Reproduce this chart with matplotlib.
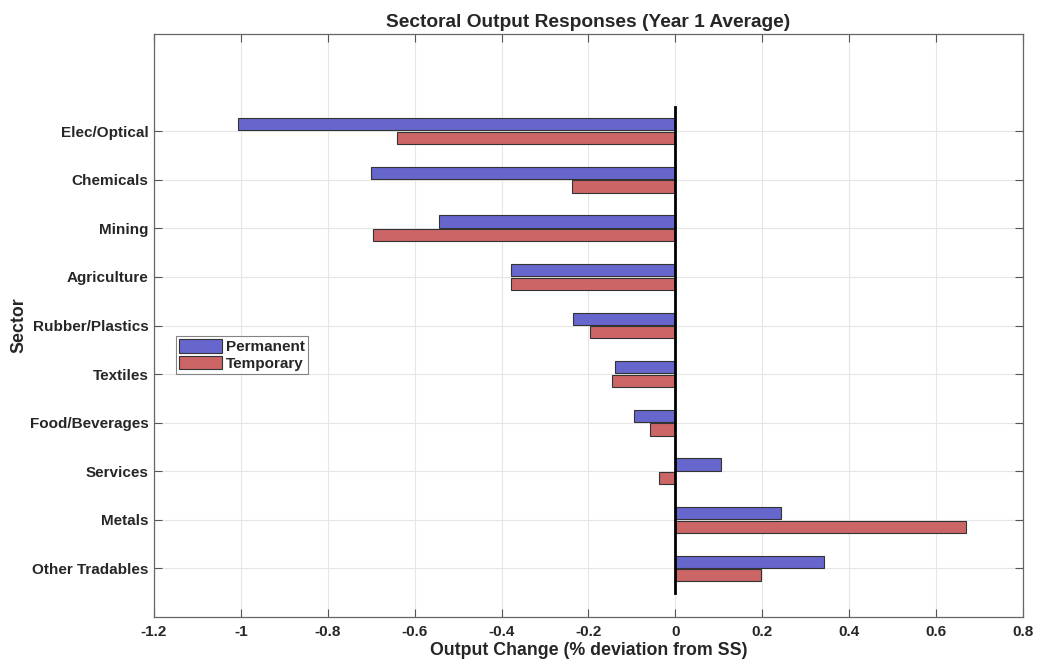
import matplotlib.pyplot as plt
import numpy as np

plt.rcParams['font.family'] = ['Liberation Sans', 'DejaVu Sans']
plt.rcParams['text.color'] = '#262626'
plt.rcParams['axes.labelcolor'] = '#262626'
plt.rcParams['xtick.labelcolor'] = '#262626'
plt.rcParams['ytick.labelcolor'] = '#262626'

# sectors listed bottom-to-top
SECTORS = ['Other Tradables', 'Metals', 'Services', 'Food/Beverages', 'Textiles',
           'Rubber/Plastics', 'Agriculture', 'Mining', 'Chemicals', 'Elec/Optical']
PERMANENT = [0.343, 0.243, 0.105, -0.096, -0.139, -0.236, -0.379, -0.544, -0.701, -1.007]
TEMPORARY = [0.196, 0.668, -0.038, -0.059, -0.146, -0.197, -0.379, -0.696, -0.238, -0.641]
XTICKS = [-1.2, -1, -0.8, -0.6, -0.4, -0.2, 0, 0.2, 0.4, 0.6, 0.8]
XTICKLABELS = ['-1.2', '-1', '-0.8', '-0.6', '-0.4', '-0.2', '0', '0.2', '0.4', '0.6', '0.8']

fig = plt.figure(figsize=(10.38, 6.62), dpi=100)
ax = fig.add_axes([0.1484, 0.068, 0.8371, 0.8806])

y = np.arange(1, len(SECTORS) + 1)
h = 0.25
off = 0.14
ax.barh(y + off, PERMANENT, height=h, color='#6666cc', edgecolor='#333333',
        linewidth=0.8, label='Permanent', zorder=3)
ax.barh(y - off, TEMPORARY, height=h, color='#cc6666', edgecolor='#333333',
        linewidth=0.8, label='Temporary', zorder=3)
ax.plot([0, 0], [0.5, len(SECTORS) + 0.5], color='black', linewidth=2, zorder=4)

ax.set_xlim(-1.2, 0.8)
ax.set_ylim(0, 12)
ax.set_xticks(XTICKS)
ax.set_xticklabels(XTICKLABELS, fontweight='bold', fontsize=11)
ax.set_yticks(y)
ax.set_yticklabels(SECTORS, fontweight='bold', fontsize=11)
ax.tick_params(direction='in', length=6, width=0.8, color='#555555',
               top=True, right=True)
ax.tick_params(axis='y', pad=4)
ax.tick_params(axis='x', pad=6)
ax.grid(True, color='#e6e6e6', linewidth=0.8, zorder=0)
ax.set_axisbelow(True)
for s in ax.spines.values():
    s.set_color('#666666')
    s.set_linewidth(0.9)

ax.set_xlabel('Output Change (% deviation from SS)', fontweight='bold', fontsize=12.8, labelpad=2)
ax.set_ylabel('Sector', fontweight='bold', fontsize=12.8, labelpad=2)
ax.set_title('Sectoral Output Responses (Year 1 Average)', fontweight='bold', fontsize=13.8, pad=5)

leg = ax.legend(loc='upper left', bbox_to_anchor=(0.025, 0.482),
                prop={'weight': 'bold', 'size': 11}, frameon=True, fancybox=False,
                borderpad=0.2, handlelength=2.8, handleheight=1.0, handletextpad=0.3,
                labelspacing=0.1, borderaxespad=0)
leg.get_frame().set_edgecolor('#666666')
leg.get_frame().set_linewidth(0.8)

fig.savefig('out.png', dpi=100)
